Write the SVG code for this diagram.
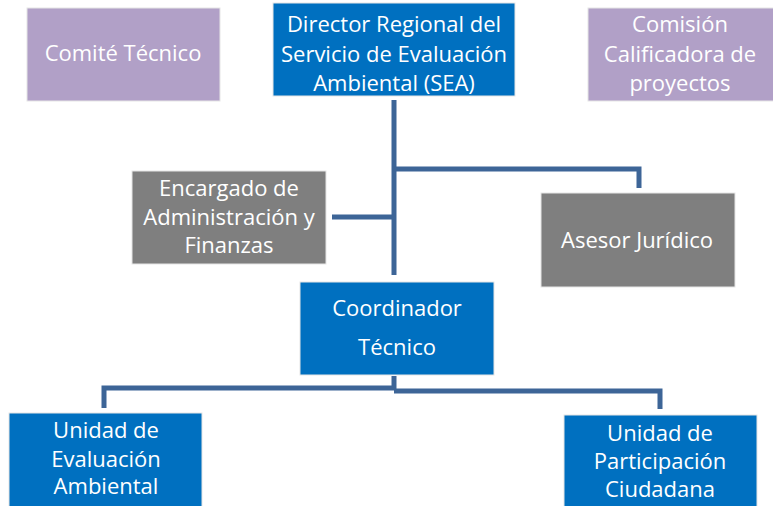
<svg xmlns="http://www.w3.org/2000/svg" width="773" height="506" viewBox="0 0 773 506">
<style>
.p{fill:#b1a0c7}
.b{fill:#0070c0}
.g{fill:#7f7f7f}
.box{stroke:#e6e6e6;stroke-width:1}
text{font-family:"Open Sans","Liberation Sans",sans-serif;font-size:22px;fill:#ffffff;text-anchor:middle}
.c{fill:none;stroke:#3d6597;stroke-width:5;stroke-linejoin:miter}
</style>
<rect width="773" height="506" fill="#ffffff"/>
<g id="connectors">
<path class="c" d="M394,100 V275"/>
<path class="c" d="M394,169 H639 V188"/>
<path class="c" d="M332,217 H394"/>
<path class="c" d="M394,376 V390"/>
<path class="c" d="M394,388 H104 V408"/>
<path class="c" d="M394,391 H660 V409"/>
</g>
<g id="comite">
<rect class="p box" x="27" y="8" width="193" height="93"/>
<text x="123" y="61">Comité Técnico</text>
</g>
<g id="director">
<rect class="b box" x="273" y="3" width="242" height="93"/>
<text x="394" y="32">Director Regional del</text>
<text x="394" y="62">Servicio de Evaluación</text>
<text x="394" y="91">Ambiental (SEA)</text>
</g>
<g id="comision">
<rect class="p box" x="588" y="8" width="186" height="93"/>
<text x="680" y="32">Comisión</text>
<text x="680" y="62">Calificadora de</text>
<text x="680" y="91">proyectos</text>
</g>
<g id="encargado">
<rect class="g box" x="132" y="171" width="194" height="93"/>
<text x="229" y="196">Encargado de</text>
<text x="229" y="225">Administración y</text>
<text x="229" y="253">Finanzas</text>
</g>
<g id="asesor">
<rect class="g box" x="541" y="193" width="194" height="94"/>
<text x="637" y="248">Asesor Jurídico</text>
</g>
<g id="coordinador">
<rect class="b box" x="300" y="282" width="194" height="93"/>
<text x="397" y="316">Coordinador</text>
<text x="397" y="355">Técnico</text>
</g>
<g id="unidad-evaluacion">
<rect class="b box" x="9" y="413" width="193" height="95"/>
<text x="106" y="438">Unidad de</text>
<text x="106" y="467">Evaluación</text>
<text x="106" y="494">Ambiental</text>
</g>
<g id="unidad-participacion">
<rect class="b box" x="564" y="415" width="193" height="93"/>
<text x="660" y="441">Unidad de</text>
<text x="660" y="469">Participación</text>
<text x="660" y="497">Ciudadana</text>
</g>
</svg>
